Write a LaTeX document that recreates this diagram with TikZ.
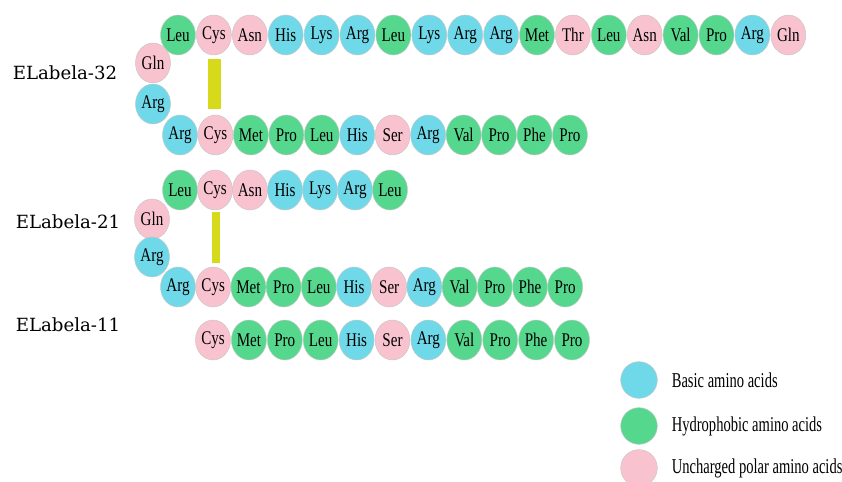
\documentclass[tikz,border=0pt]{standalone}
\usepackage{fontspec}
\setmainfont{Liberation Serif}
\newfontfamily\aafont[FakeStretch=0.78]{Liberation Serif}
\newfontfamily\legfont[FakeStretch=0.69]{Liberation Serif}
\newfontfamily\labfont{DejaVu Serif}
\usetikzlibrary{shapes.geometric,calc,positioning}
\definecolor{basic}{HTML}{70D9E9}
\definecolor{hydro}{HTML}{55D88D}
\definecolor{polar}{HTML}{F9C2CF}
\definecolor{bridge}{HTML}{D6DA1A}

\begin{document}
\begin{tikzpicture}[x=0.03cm,y=-0.03cm,
    aa/.style={ellipse,draw=gray!45,line width=.4pt,minimum width=1.05cm,minimum height=1.2cm,inner sep=0pt,font=\aafont\fontsize{16.5}{16.5}\selectfont},
    bas/.style={aa,fill=basic},
    hyd/.style={aa,fill=hydro},
    pol/.style={aa,fill=polar},
    pname/.style={font=\labfont\fontsize{15.5}{16}\selectfont},
    key/.style={circle,draw=gray!45,line width=.4pt,minimum size=1.1cm,inner sep=0pt},
    keytxt/.style={anchor=west,inner sep=0pt,font=\legfont\fontsize{18}{18}\selectfont}]
    \useasboundingbox (0,0) rectangle (842,482);

    % ELabela-32
    \foreach \res/\kind [count=\i] in {Leu/hyd,Cys/pol,Asn/pol,His/bas,Lys/bas,Arg/bas,Leu/hyd,Lys/bas,Arg/bas,Arg/bas,Met/hyd,Thr/pol,Leu/hyd,Asn/pol,Val/hyd,Pro/hyd,Arg/bas,Gln/pol}
      \node[\kind] (ta\i) at ({178+35.9*(\i-1)},35) {\res};
    \node[pol] (ga) at (153,63) {Gln};
    \node[bas] (ra) at (153,104) {Arg};
    \foreach \res/\kind [count=\i] in {Arg/bas,Cys/pol,Met/hyd,Pro/hyd,Leu/hyd,His/bas,Ser/pol,Arg/bas,Val/hyd,Pro/hyd,Phe/hyd,Pro/hyd}
      \node[\kind] (ba\i) at ({180+35.45*(\i-1)},135) {\res};
    \fill[bridge] ($(ta2.south)+(-6,4)$) rectangle ($(ba2.north)+(6,-6)$);
    \node[pname] (la) at (65,73) {ELabela-32};

    % ELabela-21
    \foreach \res/\kind [count=\i] in {Leu/hyd,Cys/pol,Asn/pol,His/bas,Lys/bas,Arg/bas,Leu/hyd}
      \node[\kind] (tb\i) at ({180+35*(\i-1)},190) {\res};
    \node[pol] (gb) at (152,219) {Gln};
    \node[bas] (rb) at (152,257) {Arg};
    \foreach \res/\kind [count=\i] in {Arg/bas,Cys/pol,Met/hyd,Pro/hyd,Leu/hyd,His/bas,Ser/pol,Arg/bas,Val/hyd,Pro/hyd,Phe/hyd,Pro/hyd}
      \node[\kind] (bb\i) at ({178+35.2*(\i-1)},287) {\res};
    \fill[bridge] ($(tb2.south)+(-3,2)$) rectangle ($(bb2.north)+(7,-4)$);
    \node[pname] (lb) at (68,222) {ELabela-21};

    % ELabela-11
    \foreach \res/\kind [count=\i] in {Cys/pol,Met/hyd,Pro/hyd,Leu/hyd,His/bas,Ser/pol,Arg/bas,Val/hyd,Pro/hyd,Phe/hyd,Pro/hyd}
      \node[\kind] (cc\i) at ({213+35.9*(\i-1)},340) {\res};
    \node[pname] (lc) at (68,325) {ELabela-11};

    % legend
    \node[key,fill=basic] (kb) at (639,380) {};
    \node[key,fill=hydro] (kh) at (639,426) {};
    \node[key,fill=polar] (kp) at (639,468) {};
    \node[keytxt] at ($(kb.east)+(14,0)$) {Basic amino acids};
    \node[keytxt] at ($(kh.east)+(14,0)$) {Hydrophobic amino acids};
    \node[keytxt] at ($(kp.east)+(14,0)$) {Uncharged polar amino acids};
\end{tikzpicture}
\end{document}
